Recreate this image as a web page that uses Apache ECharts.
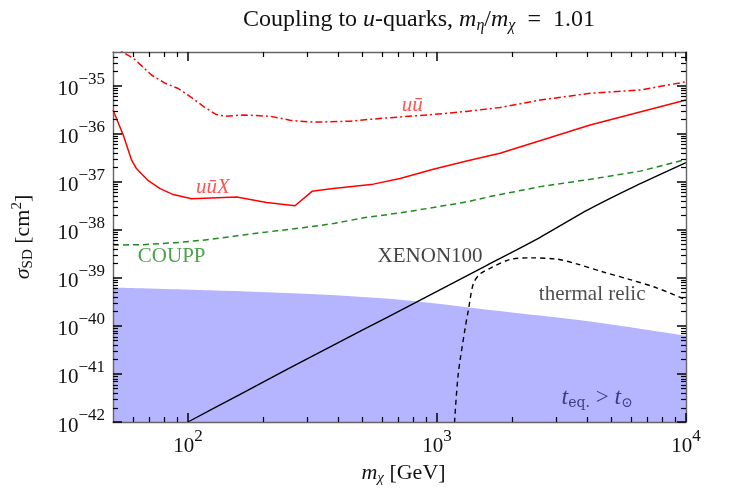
<!DOCTYPE html>
<html><head><meta charset="utf-8">
<script src="https://cdn.jsdelivr.net/npm/echarts@6/dist/echarts.min.js"></script>
<style>html,body{margin:0;padding:0;background:#fff}#c{width:729px;height:491px}</style>
</head><body><div id="c"></div>
<script>
// ---- data (raw units: m in GeV, sigma in cm^2) ----
const xRange = [50, 10000];
const yRange = [1e-42, 5e-35];
const xTickExps = [2, 3, 4];
const yTickExps = [-42, -41, -40, -39, -38, -37, -36, -35];

const uuX_m = [50, 55, 59.4, 62.2, 69.3, 77.3, 87.3, 103.5, 157, 207, 269, 315, 383, 555, 711, 966, 1315, 1791, 4121, 10000];
const uuX_s = [3.1e-36, 9.3e-37, 2.8e-37, 1.86e-37, 1.05e-37, 7.2e-38, 5.4e-38, 4.4e-38, 4.8e-38, 3.7e-38, 3.16e-38, 6.3e-38, 7.2e-38, 8.9e-38, 1.17e-37, 1.82e-37, 2.7e-37, 3.9e-37, 1.51e-36, 5.0e-36];

const uu_m = [50, 55, 60.4, 71.4, 80.9, 91.4, 103.5, 117, 130, 141, 167, 214, 257, 309, 339, 448, 610, 966, 1315, 1791, 2594, 4121, 6546, 10000];
const uu_s = [7e-35, 4.9e-35, 3.7e-35, 1.66e-35, 1.12e-35, 8.7e-36, 5.6e-36, 3.5e-36, 2.5e-36, 2.3e-36, 2.45e-36, 2.3e-36, 1.9e-36, 1.74e-36, 1.74e-36, 1.82e-36, 2.1e-36, 2.5e-36, 2.9e-36, 3.5e-36, 5.0e-36, 6.9e-36, 8.1e-36, 1.2e-35];

const coupp_m = [50, 66.2, 90.2, 123, 167, 227, 290, 384, 522, 711, 966, 1315, 1633, 2594, 4121, 6546, 10000];
const coupp_s = [4.8e-39, 4.9e-39, 5.4e-39, 6.3e-39, 7.8e-39, 9.5e-39, 1.1e-38, 1.35e-38, 1.82e-38, 2.24e-38, 2.9e-38, 3.8e-38, 4.9e-38, 7.9e-38, 1.12e-37, 1.66e-37, 2.9e-37];

const xenon_m = [100, 158.5, 251, 398, 631, 1000, 1585, 2512, 3981, 6310, 10000];
const xenon_s = [1e-42, 3.55e-42, 1.26e-41, 4.4e-41, 1.51e-40, 5.2e-40, 1.82e-39, 6.3e-39, 2.5e-38, 8.3e-38, 2.5e-37];

const relic_m = [1170, 1216, 1297, 1337, 1400, 1489, 1633, 1963, 2366, 3027, 3639, 4656, 5957, 7621, 10000];
const relic_s = [6.3e-43, 9.5e-42, 8.9e-41, 2.14e-40, 7.6e-40, 1.2e-39, 1.58e-39, 2.4e-39, 2.6e-39, 2.45e-39, 1.95e-39, 1.32e-39, 9.2e-40, 6.2e-40, 3.5e-40];

const teq_m = [50, 123, 309, 711, 1633, 4121, 10000];
const teq_s = [6.3e-40, 5.5e-40, 4.6e-40, 3.5e-40, 2.14e-40, 1.23e-40, 6.2e-41];

const notes = [
  {key: 'uuX', m: 126, s: 7.6e-38},
  {key: 'uu', m: 795, s: 3.9e-36},
  {key: 'coupp', m: 86, s: 2.8e-39},
  {key: 'xenon', m: 938, s: 2.8e-39},
  {key: 'relic', m: 4200, s: 4.4e-40},
  {key: 'teq', m: 4400, s: 3.2e-42}
];

// ---- build ----
const L = Math.log10;
const FF = "'Liberation Serif', 'DejaVu Serif', serif";
const XMIN = L(xRange[0]), XMAX = L(xRange[1]);
const YMIN = L(yRange[0]), YMAX = L(yRange[1]);
const pts = (m, s) => m.map((v, i) => [L(v), L(s[i])]);

function minors(exps, lo, hi) {
  const out = [];
  for (let n = exps[0] - 1; n <= exps[exps.length - 1]; n++)
    for (let k = 2; k <= 9; k++) {
      const v = n + L(k);
      if (v > lo + 1e-9 && v < hi - 1e-9) out.push(v);
    }
  return out;
}
const minorTickData = minors(xTickExps, XMIN, XMAX).map(v => [v, YMIN, 0])
  .concat(minors(yTickExps, YMIN, YMAX).map(v => [XMIN, v, 1]));

const tickRich = {
  b: {fontFamily: FF, fontSize: 21, color: '#111', lineHeight: 29, verticalAlign: 'bottom'},
  s: {fontFamily: FF, fontSize: 17, color: '#111', lineHeight: 17, verticalAlign: 'top'}
};
function powFmt(v) {
  const e = Math.round(v);
  return '{b|10}{s|' + (e < 0 ? '\u2212' + (-e) : e) + '}';
}

function axis(kind, pos, labels) {
  const isX = kind === 'x';
  return {
    type: 'value', position: pos,
    min: isX ? XMIN : YMIN, max: isX ? XMAX : YMAX,
    z: 10,
    axisLine: {show: true, onZero: false, lineStyle: {color: '#666', width: 1.4}},
    axisTick: {show: true, inside: true, length: 9,
      customValues: isX ? xTickExps : yTickExps,
      lineStyle: {color: '#000', width: 1.5}},
    axisLabel: {show: labels, customValues: isX ? xTickExps : yTickExps,
      formatter: powFmt, rich: tickRich, margin: isX ? 6 : 8},
    splitLine: {show: false}
  };
}

const xAxes = [axis('x', 'bottom', true), axis('x', 'top', false)];
const yAxes = [axis('y', 'left', true), axis('y', 'right', false)];

const nameRich = {
  i: {fontFamily: FF, fontSize: 22, fontStyle: 'italic', color: '#111', lineHeight: 26},
  sub: {fontFamily: FF, fontSize: 15, color: '#111', lineHeight: 15, verticalAlign: 'bottom'},
  subi: {fontFamily: FF, fontSize: 15, fontStyle: 'italic', color: '#111', lineHeight: 15, verticalAlign: 'bottom'},
  sup: {fontFamily: FF, fontSize: 15, color: '#111', lineHeight: 15, verticalAlign: 'top'},
  t: {fontFamily: FF, fontSize: 22, color: '#111', lineHeight: 26}
};

xAxes[0].name = '{i|m}{subi|\u03c7}{t| [GeV]}';
xAxes[0].nameLocation = 'middle';
xAxes[0].nameGap = 37;
xAxes[0].nameTextStyle = {rich: nameRich, fontFamily: FF, fontSize: 22, color: '#111', padding: [0, 0, 0, 8]};

yAxes[0].name = '{i|\u03c3}{sub|SD}{t| [cm}{sup|2}{t|]}';
yAxes[0].nameLocation = 'middle';
yAxes[0].nameRotate = 90;
yAxes[0].nameGap = 77;
yAxes[0].nameTextStyle = {rich: nameRich, fontFamily: FF, fontSize: 22, color: '#111'};

const noteStyle = {
  uuX: {text: 'u\u016bX', color: '#ff2a2a', italic: true},
  uu: {text: 'u\u016b', color: '#ff2a2a', italic: true},
  coupp: {text: 'COUPP', color: '#1f8a1f'},
  xenon: {text: 'XENON100', color: '#111'},
  relic: {text: 'thermal relic', color: '#222'},
  teq: {rich: true, color: '#1c1c66'}
};

const noteData = notes.map(n => {
  const st = noteStyle[n.key];
  let label;
  if (st.rich) {
    label = {show: true, position: 'inside',
      formatter: '{i|t}{sub|eq.}{t| > }{i|t}{sub|\u2299}',
      rich: {
        i: {fontFamily: FF, fontSize: 24, fontStyle: 'italic', color: st.color, lineHeight: 26},
        t: {fontFamily: FF, fontSize: 23, color: st.color, lineHeight: 26},
        sub: {fontFamily: "'DejaVu Serif', serif", fontSize: 14, color: st.color, lineHeight: 14, verticalAlign: 'bottom'}
      }};
  } else {
    label = {show: true, position: 'inside', formatter: st.text,
      fontFamily: FF, fontSize: 21, color: st.color, fontStyle: st.italic ? 'italic' : 'normal'};
  }
  return {value: [L(n.m), L(n.s)], label};
});

const option = {
  animation: false,
  backgroundColor: '#fff',
  title: {
    text: 'Coupling to {i|u}-quarks, {i|m}{sub|\u03b7}{t|/}{i|m}{sub|\u03c7}{t|  =  1.01}',
    left: 414, textAlign: 'center', top: 1,
    textStyle: {fontFamily: FF, fontSize: 24, fontWeight: 'normal', color: '#111',
      rich: {
        i: {fontFamily: FF, fontSize: 24, fontStyle: 'italic', color: '#111', lineHeight: 28},
        sub: {fontFamily: FF, fontSize: 16, fontStyle: 'italic', color: '#111', lineHeight: 16, verticalAlign: 'bottom'},
        t: {fontFamily: FF, fontSize: 24, color: '#111', lineHeight: 28}
      }}
  },
  grid: {left: 113, right: 43, top: 52, bottom: 69, containLabel: false},
  xAxis: xAxes,
  yAxis: yAxes,
  series: [
    {type: 'line', data: pts(teq_m, teq_s), showSymbol: false, symbol: 'none',
      lineStyle: {width: 0}, areaStyle: {color: 'rgb(180,180,255)', opacity: 1, origin: 'start'}, z: 1, smooth: 0.3},
    {type: 'line', data: pts(xenon_m, xenon_s), symbol: 'none', lineStyle: {color: '#000', width: 1.4}, smooth: 0.2},
    {type: 'line', data: pts(relic_m, relic_s), symbol: 'none', lineStyle: {color: '#000', width: 1.4, type: [5, 4]}, smooth: 0.3},
    {type: 'line', data: pts(coupp_m, coupp_s), symbol: 'none', lineStyle: {color: '#1f8a1f', width: 1.5, type: [6, 4]}},
    {type: 'line', data: pts(uuX_m, uuX_s), symbol: 'none', lineStyle: {color: '#ff0000', width: 1.5}},
    {type: 'line', data: pts(uu_m, uu_s), symbol: 'none', lineStyle: {color: '#ff0000', width: 1.5, type: [7, 3, 2, 3]}},
    {type: 'scatter', data: noteData, symbolSize: 0, z: 20, silent: true},
    {type: 'custom', data: minorTickData, z: 15, silent: true, clip: false,
      renderItem: function (params, api) {
        const cs = params.coordSys;
        const p = api.coord([api.value(0), api.value(1)]);
        const st = {stroke: '#000', lineWidth: 1.2};
        const len = 5;
        if (api.value(2) === 0) {
          const x = Math.round(p[0]) + 0.5;
          return {type: 'group', children: [
            {type: 'line', shape: {x1: x, y1: cs.y + cs.height, x2: x, y2: cs.y + cs.height - len}, style: st},
            {type: 'line', shape: {x1: x, y1: cs.y, x2: x, y2: cs.y + len}, style: st}
          ]};
        }
        const y = Math.round(p[1]) + 0.5;
        return {type: 'group', children: [
          {type: 'line', shape: {x1: cs.x, y1: y, x2: cs.x + len, y2: y}, style: st},
          {type: 'line', shape: {x1: cs.x + cs.width, y1: y, x2: cs.x + cs.width - len, y2: y}, style: st}
        ]};
      }}
  ]
};

const chart = echarts.init(document.getElementById('c'), null, {renderer: 'canvas'});
chart.setOption(option);
</script>
</body></html>
